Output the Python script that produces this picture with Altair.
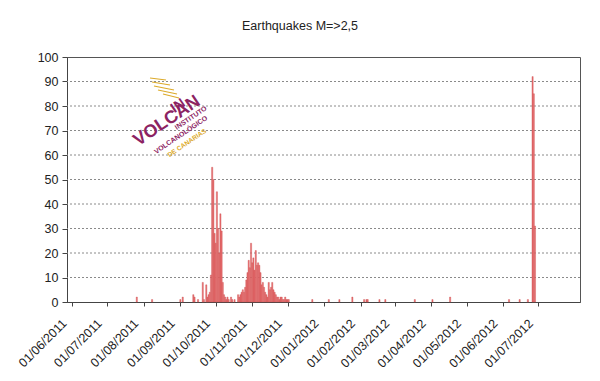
import altair as alt
import pandas as pd

TITLE = "Earthquakes M=>2,5"

dates = [
    "2011-07-26", "2011-08-08", "2011-09-01", "2011-09-03", "2011-09-12", "2011-09-13",
    "2011-09-16", "2011-09-20", "2011-09-21", "2011-09-23", "2011-09-24", "2011-09-25",
    "2011-09-26", "2011-09-27", "2011-09-28", "2011-09-29", "2011-09-30", "2011-10-01",
    "2011-10-02", "2011-10-03", "2011-10-04", "2011-10-05", "2011-10-06", "2011-10-07",
    "2011-10-08", "2011-10-09", "2011-10-10", "2011-10-11", "2011-10-12", "2011-10-14",
    "2011-10-15", "2011-10-17", "2011-10-20", "2011-10-21", "2011-10-22", "2011-10-23",
    "2011-10-24", "2011-10-25", "2011-10-26", "2011-10-27", "2011-10-28", "2011-10-29",
    "2011-10-30", "2011-10-31", "2011-11-01", "2011-11-02", "2011-11-03", "2011-11-04",
    "2011-11-05", "2011-11-06", "2011-11-07", "2011-11-08", "2011-11-09", "2011-11-10",
    "2011-11-11", "2011-11-12", "2011-11-13", "2011-11-14", "2011-11-15", "2011-11-16",
    "2011-11-17", "2011-11-18", "2011-11-19", "2011-11-20", "2011-11-21", "2011-11-22",
    "2011-11-23", "2011-11-24", "2011-11-25", "2011-11-26", "2011-11-27", "2011-11-28",
    "2011-11-29", "2011-11-30", "2011-12-01", "2011-12-02", "2011-12-22", "2012-01-05",
    "2012-01-14", "2012-01-25", "2012-02-04", "2012-02-06", "2012-02-07", "2012-02-17",
    "2012-02-22", "2012-03-18", "2012-04-02", "2012-04-17", "2012-06-06", "2012-06-15",
    "2012-06-22", "2012-06-26", "2012-06-27", "2012-06-28",
]
counts = [
    2, 1, 1, 2, 3, 2,
    1, 8, 1, 7, 2, 3,
    4, 11, 55, 50, 28, 24,
    45, 30, 20, 36, 29, 8,
    3, 2, 1, 2, 1, 2,
    1, 1, 3, 2, 3, 4,
    5, 4, 6, 9, 12, 17,
    14, 24, 16, 18, 13, 21,
    15, 16, 15, 12, 7, 8,
    6, 4, 3, 2, 8, 5,
    6, 8, 5, 4, 3, 2,
    2, 1, 2, 2, 1, 1,
    2, 1, 1, 1, 1, 1,
    1, 2, 1, 1, 1, 1,
    1, 1, 1, 2, 1, 1,
    1, 92, 85, 31,
]

tick_months = [(2011, m) for m in range(6, 13)] + [(2012, m) for m in range(1, 8)]
y_ticks = list(range(0, 101, 10))
grid_values = list(range(10, 100, 10))

df = pd.DataFrame({"date": dates, "count": counts})

FONT = "Liberation Sans"
W, H = 513, 245

x_scale = alt.Scale(
    type="utc",
    domain=[alt.DateTime(year=2011, month=6, date=1, utc=True),
            alt.DateTime(year=2012, month=8, date=1, utc=True)],
)
y_scale = alt.Scale(domain=[0, 100], nice=False)

x_axis = alt.Axis(
    values=[alt.DateTime(year=y, month=m, date=1, utc=True) for y, m in tick_months],
    format="%d/%m/%Y", title=None, grid=False,
    labelAngle=315, labelAlign="right", labelBaseline="middle",
    labelPadding=15, labelOffset=-8, tickSize=4, tickColor="#444", domainColor="#444",
    labelFont=FONT, labelFontSize=12.5, labelColor="#222", labelOverlap=False,
    labelFlush=False,
)
y_axis = alt.Axis(
    values=y_ticks, title=None, grid=False, tickSize=5, tickColor="#444",
    domainColor="#444", labelPadding=4, labelFont=FONT, labelFontSize=12.5,
    labelColor="#222",
)

grid = alt.Chart(pd.DataFrame({"g": grid_values})).mark_rule(
    color="#8a8a8a", strokeDash=[2, 2], strokeWidth=1
).encode(y=alt.Y("g:Q", scale=y_scale, axis=y_axis))

bars = alt.Chart(df).mark_bar(
    size=1.2, fill="#ea6e70", stroke="#cc5050", strokeWidth=0.4
).encode(
    x=alt.X("date:T", scale=x_scale, axis=x_axis),
    y=alt.Y("count:Q", scale=y_scale, axis=y_axis),
)

one = pd.DataFrame({"t": [TITLE]})
title = alt.Chart(one).mark_text(
    font=FONT, fontSize=12.5, color="#222", baseline="middle", align="center"
).encode(text="t:N", x=alt.value(300 - 67), y=alt.value(26 - 57))

PURPLE = "#8c2362"
GOLD = "#dcaa2a"

def logo_text(txt, px, py, size, color, bold=True):
    return alt.Chart(pd.DataFrame({"t": [txt]})).mark_text(
        font=FONT, fontSize=size, color=color, angle=326,
        fontWeight="bold" if bold else "normal", align="center", baseline="middle"
    ).encode(text="t:N", x=alt.value(px - 67), y=alt.value(py - 57))

logo = [
    logo_text("IN", 178, 106, 14, PURPLE),
    logo_text("VOLCAN", 167, 121, 18, PURPLE),
    logo_text("INSTITUTO", 191, 118, 7, PURPLE),
    logo_text("VOLCANOLÓGICO", 181, 135, 7, PURPLE),
    logo_text("DE CANARIAS", 187, 143, 6.5, GOLD),
]

gold_lines = []
for (x0, y0, x1, y1) in [(150, 78, 166, 80), (152, 82, 170, 85), (154, 86, 174, 90),
                         (158, 90, 177, 94), (163, 94, 179, 98)]:
    gold_lines.append(
        alt.Chart(one).mark_rule(color=GOLD, strokeWidth=1.2).encode(
            x=alt.value(x0 - 67), x2=alt.value(x1 - 67),
            y=alt.value(y0 - 57), y2=alt.value(y1 - 57)
        )
    )

chart = alt.layer(grid, bars, title, *logo, *gold_lines).properties(
    width=W, height=H,
    autosize=alt.AutoSizeParams(type="none"),
    padding={"left": 59, "top": 49, "right": 10, "bottom": 70},
).configure_view(stroke="#555", strokeWidth=1)

chart.save("out.html", embed_options={"renderer": "svg", "actions": False})
